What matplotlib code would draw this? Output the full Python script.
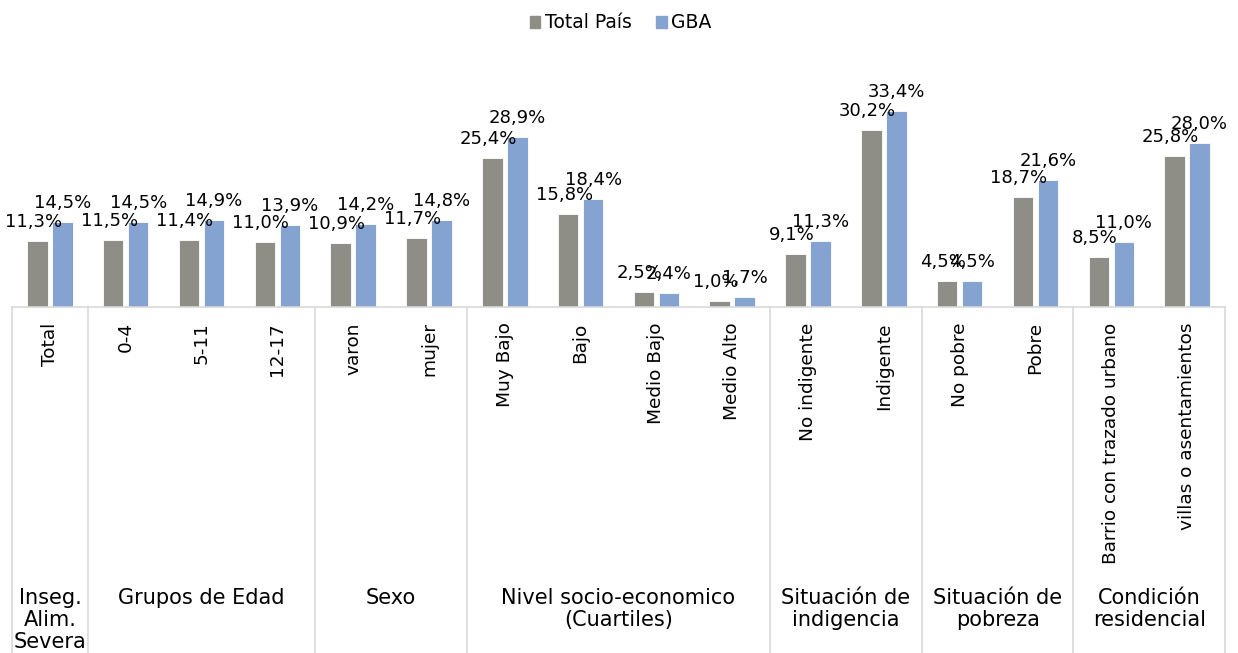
import numpy as np
import matplotlib
matplotlib.use("Agg")
import matplotlib.pyplot as plt
from matplotlib.patches import Patch
from matplotlib.transforms import offset_copy

# category labels and their groups
categories = ['Total', '0-4', '5-11', '12-17', 'varon', 'mujer',
              'Muy Bajo', 'Bajo', 'Medio Bajo', 'Medio Alto',
              'No indigente', 'Indigente', 'No pobre', 'Pobre',
              'Barrio con trazado urbano', 'villas o asentamientos']
groups = ['Inseg.\nAlim.\nSevera', 'Grupos de Edad', 'Sexo',
          'Nivel socio-economico\n(Cuartiles)', 'Situación de\nindigencia',
          'Situación de\npobreza', 'Condición\nresidencial']
group_sizes = [1, 3, 2, 4, 2, 2, 2]

total_pais = [11.3, 11.5, 11.4, 11.0, 10.9, 11.7, 25.4, 15.8, 2.5, 1.0,
              9.1, 30.2, 4.5, 18.7, 8.5, 25.8]
gba = [14.5, 14.5, 14.9, 13.9, 14.2, 14.8, 28.9, 18.4, 2.4, 1.7,
       11.3, 33.4, 4.5, 21.6, 11.0, 28.0]

GRAY = '#8e8e87'
BLUE = '#85a3d1'
LINE = '#d9d9d9'

plt.rcParams['font.family'] = ['DejaVu Sans']

W, H = 1238, 653
fig = plt.figure(figsize=(W / 100, H / 100), dpi=100)
ax = fig.add_axes([12 / W, (H - 307) / H, (1225 - 12) / W, 267 / H])

x = np.arange(len(categories))
bw = 0.27
off = 0.165
ax.bar(x - off, total_pais, bw, color=GRAY, edgecolor='white', linewidth=0.6)
ax.bar(x + off, gba, bw, color=BLUE, edgecolor='white', linewidth=0.6)

def fmt(v):
    return f"{v:.1f}%".replace('.', ',')

# data labels (Excel puts the grey ones a touch to the left)
for xi, v in zip(x - off, total_pais):
    ax.annotate(fmt(v), (xi, v), xytext=(-4, 14), textcoords='offset pixels',
                ha='center', va='baseline', fontsize=13)
for xi, v in zip(x + off, gba):
    ax.annotate(fmt(v), (xi, v), xytext=(0, 14), textcoords='offset pixels',
                ha='center', va='baseline', fontsize=13)

ax.set_xlim(-0.5, len(categories) - 0.5)
ax.set_ylim(0, 45.5)
ax.set_yticks([])
for s in ['top', 'left', 'right']:
    ax.spines[s].set_visible(False)
ax.spines['bottom'].set_color(LINE)
ax.spines['bottom'].set_linewidth(1.2)

ax.set_xticks(x, categories, rotation=90, fontsize=13.3)
ax.tick_params(axis='x', length=0, pad=11)

# group dividers and group labels
xt = ax.get_xaxis_transform()
bounds = np.concatenate([[0], np.cumsum(group_sizes)]) - 0.5
for b in bounds:
    ax.plot([b, b], [0, -1.4], transform=xt, color=LINE, lw=1.2, clip_on=False)

grp_tr = offset_copy(xt, fig=fig, y=-281, units='dots')
for g, lo, hi in zip(groups, bounds[:-1], bounds[1:]):
    ax.text((lo + hi) / 2, 0, g, transform=grp_tr, ha='center', va='top',
            fontsize=15, linespacing=1.12)

handles = [Patch(color=GRAY, label='Total País'), Patch(color=BLUE, label='GBA')]
fig.legend(handles=handles, loc='center', bbox_to_anchor=(621 / W, 1 - 23 / H),
           ncol=2, frameon=False, fontsize=13.5, handlelength=0.55,
           handleheight=0.55, handletextpad=0.25, columnspacing=1.3)

fig.savefig('out.png', dpi=100)
